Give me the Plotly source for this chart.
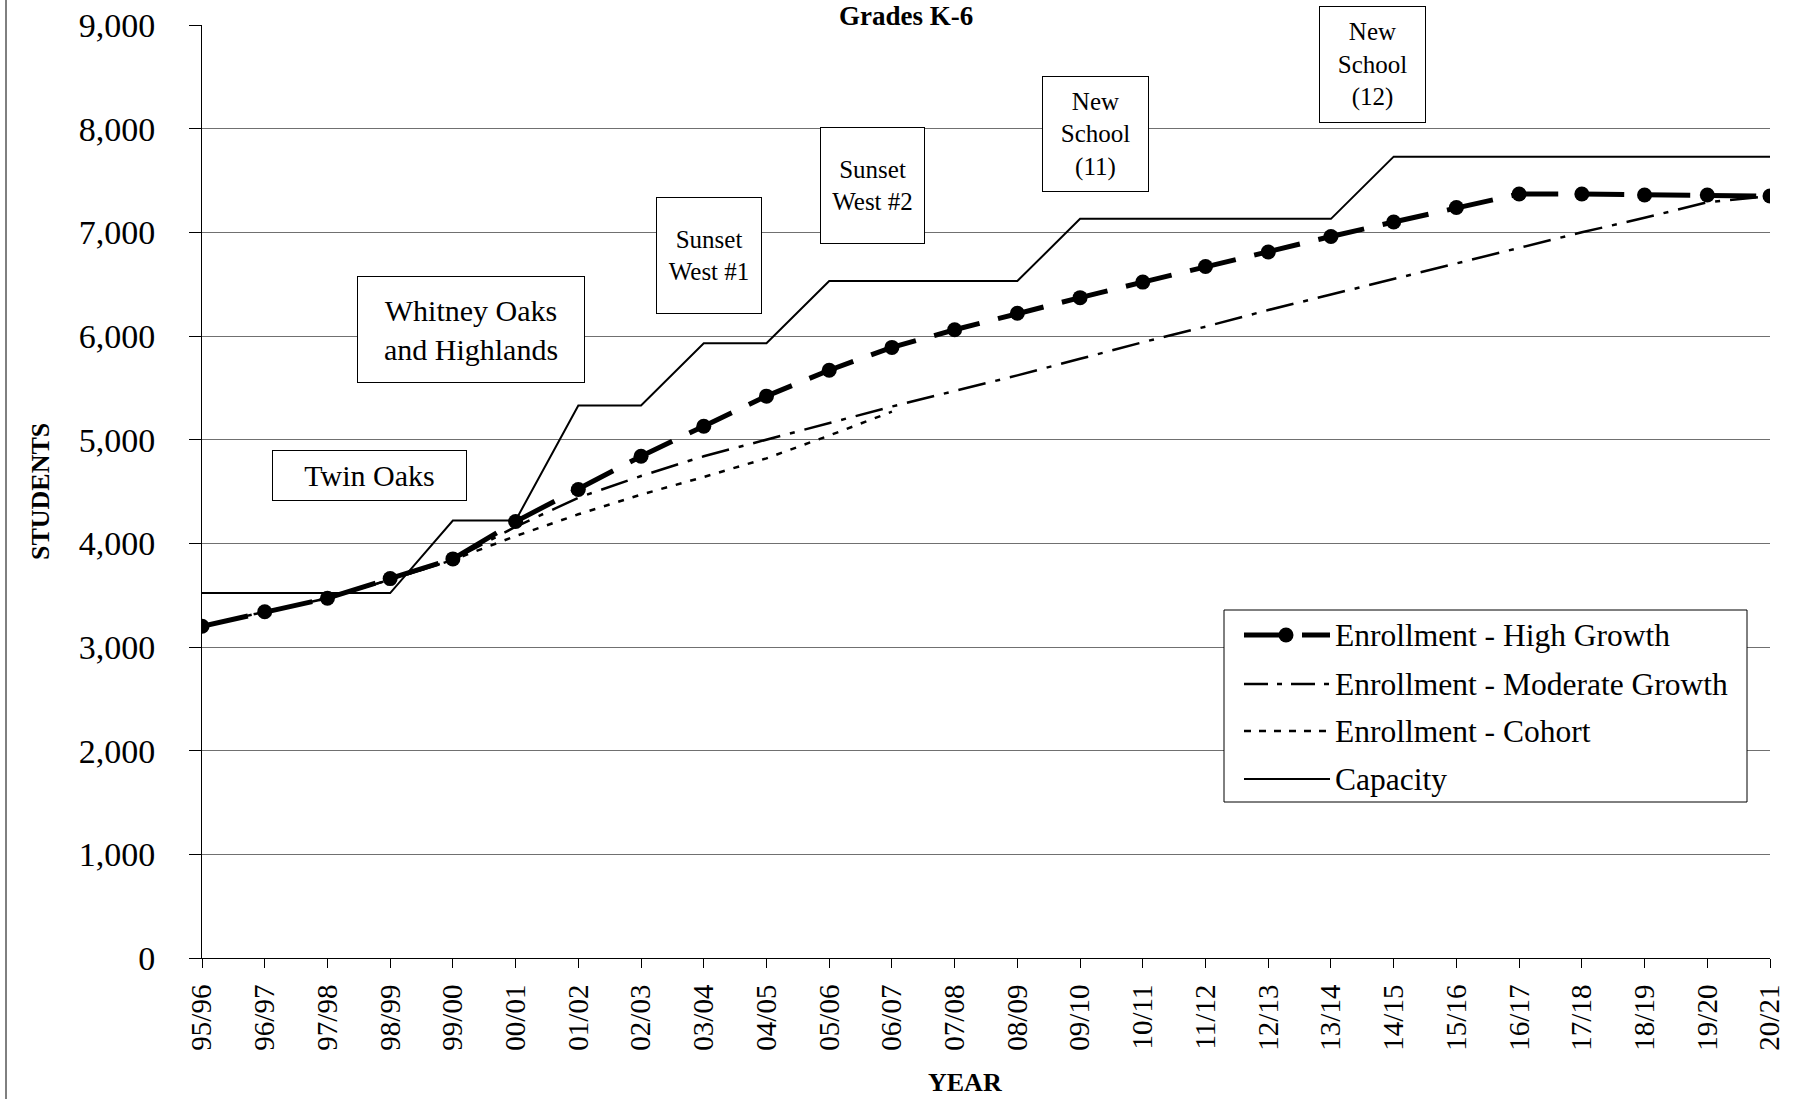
import plotly.graph_objects as go

# ---------------- data ----------------
years = ["95/96", "96/97", "97/98", "98/99", "99/00", "00/01", "01/02", "02/03",
         "03/04", "04/05", "05/06", "06/07", "07/08", "08/09", "09/10", "10/11",
         "11/12", "12/13", "13/14", "14/15", "15/16", "16/17", "17/18", "18/19",
         "19/20", "20/21"]

high_growth = [3200, 3340, 3470, 3660, 3850, 4210, 4520, 4840, 5130, 5420,
               5670, 5890, 6060, 6220, 6370, 6520, 6670, 6810, 6960, 7100,
               7240, 7370, 7370, 7360, 7360, 7350]

moderate_growth = [3200, 3340, 3470, 3650, 3840, 4160, 4440, 4650, 4840, 5000,
                   5160, 5320, 5470, 5620, 5780, 5940, 6090, 6250, 6400, 6550,
                   6700, 6850, 7000, 7140, 7290, 7350]

cohort = [3200, 3340, 3470, 3650, 3840, 4070, 4280, 4470, 4640, 4820,
          5040, 5270, None, None, None, None, None, None, None, None,
          None, None, None, None, None, None]

capacity = [3520, 3520, 3520, 3520, 4220, 4220, 5330, 5330, 5930, 5930,
            6530, 6530, 6530, 6530, 7130, 7130, 7130, 7130, 7130, 7730,
            7730, 7730, 7730, 7730, 7730, 7730]

y_ticks = [0, 1000, 2000, 3000, 4000, 5000, 6000, 7000, 8000, 9000]

series_names = ["Enrollment - High Growth", "Enrollment - Moderate Growth",
                "Enrollment - Cohort", "Capacity"]

school_labels = ["Twin Oaks", "Whitney Oaks<br>and Highlands", "Sunset<br>West #1",
                 "Sunset<br>West #2", "New<br>School<br>(11)", "New<br>School<br>(12)"]

title_text = "Grades K-6"
x_title = "YEAR"
y_title = "STUDENTS"

# ---------------- layout geometry ----------------
W, H = 1805, 1099
L, R, T, B = 202, 35, 25, 141
PW, PH = W - L - R, H - T - B
FONT = "Liberation Serif, Times New Roman, serif"


def px(xp):
    return (xp - L) / PW


def py(yp):
    return (T + PH - yp) / PH


fig = go.Figure()

fig.add_trace(go.Scatter(x=years, y=capacity, mode="lines", name=series_names[3],
                         line=dict(color="black", width=2), showlegend=False))
fig.add_trace(go.Scatter(x=years, y=cohort, mode="lines", name=series_names[2],
                         line=dict(color="black", width=2.5, dash="6px,9px"),
                         showlegend=False))
fig.add_trace(go.Scatter(x=years, y=moderate_growth, mode="lines", name=series_names[1],
                         line=dict(color="black", width=2.5, dash="28px,10px,5px,10px"),
                         showlegend=False))
fig.add_trace(go.Scatter(x=years, y=high_growth, mode="lines+markers", name=series_names[0],
                         line=dict(color="black", width=5, dash="47px,19px"),
                         marker=dict(color="black", size=15, symbol="circle"),
                         showlegend=False))

shapes = []
annotations = []

# left chart-area border
shapes.append(dict(type="line", xref="paper", yref="paper", x0=px(6), x1=px(6),
                   y0=py(H + 10), y1=py(-10), line=dict(color="black", width=1)))

# school boxes
boxes = [  # (center x, center y, width, height, font size)
    (369.5, 475.5, 195, 51, 30),
    (471, 329.5, 228, 107, 30),
    (709, 255.5, 106, 117, 25),
    (872.5, 185.5, 105, 117, 25),
    (1095.5, 134, 107, 116, 25),
    (1372.5, 64.5, 107, 117, 25),
]
for label, (cx, cy, bw, bh, fs) in zip(school_labels, boxes):
    annotations.append(dict(text=label, xref="paper", yref="paper", x=px(cx), y=py(cy),
                            xanchor="center", yanchor="middle", showarrow=False,
                            width=bw - 2, height=bh - 2, align="center", valign="middle",
                            bgcolor="white", bordercolor="black", borderwidth=1,
                            borderpad=0, font=dict(family=FONT, size=fs, color="black")))

# title (kept fully inside the page)
annotations.append(dict(text="<b>%s</b>" % title_text, xref="paper", yref="paper",
                        x=px(906), y=py(0), xanchor="center", yanchor="top",
                        borderpad=0, showarrow=False,
                        font=dict(family=FONT, size=27, color="black")))
# axis titles
annotations.append(dict(text="<b>%s</b>" % y_title, xref="paper", yref="paper",
                        x=px(40), y=py(492), xanchor="center", yanchor="middle",
                        textangle=-90, showarrow=False,
                        font=dict(family=FONT, size=26, color="black")))
annotations.append(dict(text="<b>%s</b>" % x_title, xref="paper", yref="paper",
                        x=px(965), y=py(1082), xanchor="center", yanchor="middle",
                        showarrow=False, font=dict(family=FONT, size=26, color="black")))

# custom legend
shapes.append(dict(type="rect", xref="paper", yref="paper", layer="above",
                   x0=px(1224), x1=px(1747), y0=py(802), y1=py(610),
                   fillcolor="white", line=dict(color="black", width=1)))
rows_y = [635, 684, 731, 779]
sym_x0, sym_x1 = 1244, 1330
styles = [dict(width=5, dash="46px,12px"), dict(width=2.5, dash="24px,9px,5px,9px"),
          dict(width=2.5, dash="7px,8px"), dict(width=2, dash="solid")]
for name, yy, st in zip(series_names, rows_y, styles):
    shapes.append(dict(type="line", xref="paper", yref="paper", layer="above",
                       x0=px(sym_x0), x1=px(sym_x1), y0=py(yy), y1=py(yy),
                       line=dict(color="black", width=st["width"], dash=st["dash"])))
    annotations.append(dict(text=name, xref="paper", yref="paper", x=px(1333), y=py(yy),
                            xanchor="left", yanchor="middle", showarrow=False,
                            font=dict(family=FONT, size=31.5, color="black")))
shapes.append(dict(type="circle", xref="paper", yref="paper", layer="above",
                   xsizemode="pixel", ysizemode="pixel", xanchor=px(1286), yanchor=py(rows_y[0]),
                   x0=-7.5, x1=7.5, y0=-7.5, y1=7.5, fillcolor="black",
                   line=dict(color="black", width=0)))

fig.update_layout(
    width=W, height=H,
    margin=dict(l=L, r=R, t=T, b=B, autoexpand=False),
    paper_bgcolor="white", plot_bgcolor="white",
    font=dict(family=FONT, color="black"),
    showlegend=False,
    shapes=shapes, annotations=annotations,
    xaxis=dict(type="category", categoryorder="array", categoryarray=years,
               range=[0, len(years) - 1], showgrid=False, zeroline=False,
               showline=True, linecolor="black", linewidth=1,
               ticks="outside", ticklen=9, tickcolor="black", tickwidth=1,
               tickangle=-90, tickfont=dict(family=FONT, size=29, color="black"),
               ticklabelstandoff=5, automargin=False),
    yaxis=dict(range=[0, 9000], tickvals=y_ticks, tickformat=",d",
               showgrid=True, gridcolor="#707070", gridwidth=1, zeroline=False,
               showline=True, linecolor="black", linewidth=1,
               ticks="outside", ticklen=12, tickcolor="black", tickwidth=1,
               tickfont=dict(family=FONT, size=34, color="black"),
               ticklabelstandoff=27, automargin=False),
)

fig.write_html("out.html", config={"displayModeBar": False},
               post_script="document.body.style.margin='0';document.body.style.overflow='hidden';")
